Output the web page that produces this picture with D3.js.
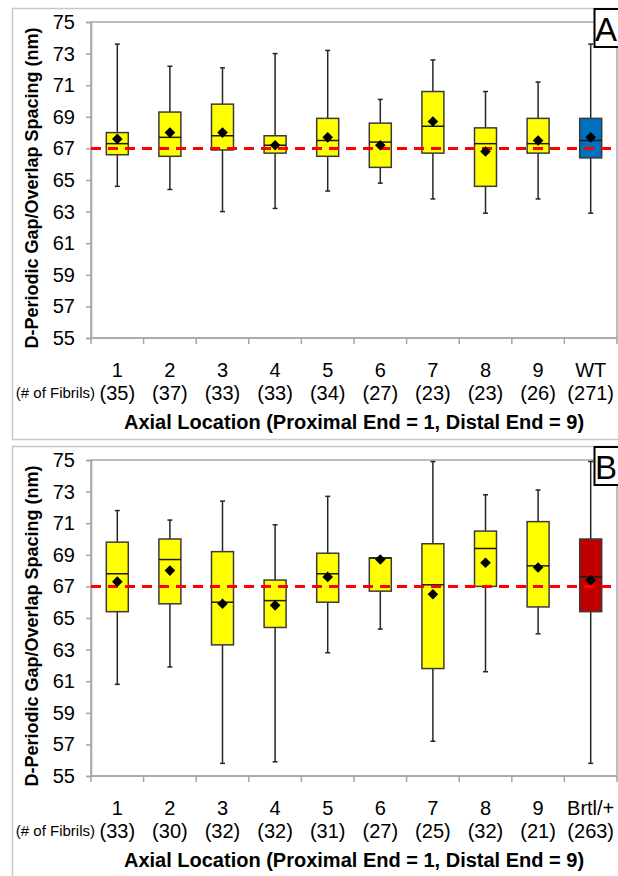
<!DOCTYPE html>
<html>
<head>
<meta charset="utf-8">
<script src="https://cdn.jsdelivr.net/npm/d3@7"></script>
<style>
  body { margin: 0; background: #fff; }
  text { font-family: "Liberation Sans", Arial, sans-serif; }
</style>
</head>
<body>
<div id="chart"></div>
<script>
// Panel A (wild type)
let catsA = ['1', '2', '3', '4', '5', '6', '7', '8', '9', 'WT'];
let countsA = ['(35)', '(37)', '(33)', '(33)', '(34)', '(27)', '(23)', '(23)', '(26)', '(271)'];
let minA  = [64.6, 64.4, 63.0, 63.2, 64.3, 64.8, 63.8, 62.9, 63.8, 62.9];
let q1A   = [66.6, 66.5, 66.9, 66.7, 66.5, 65.8, 66.7, 64.6, 66.7, 66.4];
let medA  = [67.3, 67.7, 67.8, 67.2, 67.5, 67.4, 68.4, 67.3, 67.3, 67.5];
let q3A   = [68.0, 69.3, 69.8, 67.8, 68.9, 68.6, 70.6, 68.3, 68.9, 68.9];
let maxA  = [73.6, 72.2, 72.1, 73.0, 73.2, 70.1, 72.6, 70.6, 71.2, 73.6];
let meanA = [67.6, 68.0, 68.0, 67.2, 67.7, 67.2, 68.7, 66.8, 67.5, 67.7];

// Panel B (Brtl/+)
let catsB = ['1', '2', '3', '4', '5', '6', '7', '8', '9', 'Brtl/+'];
let countsB = ['(33)', '(30)', '(32)', '(32)', '(31)', '(27)', '(25)', '(32)', '(21)', '(263)'];
let minB  = [60.8, 61.9, 55.8, 55.9, 62.8, 64.3, 57.2, 61.6, 64.0, 55.8];
let q1B   = [65.4, 65.9, 63.3, 64.4, 66.0, 66.7, 61.8, 67.0, 65.7, 65.4];
let medB  = [67.8, 68.7, 66.0, 66.1, 67.8, 68.8, 67.1, 69.4, 68.3, 67.6];
let q3B   = [69.8, 70.0, 69.2, 67.4, 69.1, 68.8, 69.7, 70.5, 71.1, 70.0];
let maxB  = [71.8, 71.2, 72.4, 70.9, 72.7, 68.8, 74.9, 72.8, 73.1, 74.9];
let meanB = [67.3, 68.0, 65.9, 65.8, 67.6, 68.7, 66.5, 68.5, 68.2, 67.4];

let yTicks = [55, 57, 59, 61, 63, 65, 67, 69, 71, 73, 75];
let refValue = 67;

let svg = d3.select('#chart')
    .append('svg')
    .attr('width', 618)
    .attr('height', 876);

function drawPanel(top, cats, counts, mn, q1, med, q3, mx, mean, lastColor, letter) {
    let plot = { left: 91, right: 617, top: top + 14, bottom: top + 330 };

    let g = svg.append('g');

    // outer frame
    g.append('rect')
        .attr('x', 12.5).attr('y', top + 0.5)
        .attr('width', 640).attr('height', 431)
        .attr('fill', 'none')
        .attr('stroke', '#c8c8c8')
        .attr('stroke-width', 1.5);

    let x = d3.scaleBand().domain(d3.range(cats.length)).range([plot.left, plot.right]);
    let y = d3.scaleLinear().domain([55, 75]).range([plot.bottom, plot.top]);

    // plot area border
    g.append('rect')
        .attr('x', plot.left).attr('y', plot.top)
        .attr('width', plot.right - plot.left).attr('height', plot.bottom - plot.top)
        .attr('fill', 'none')
        .attr('stroke', '#a6a6a6')
        .attr('stroke-width', 1.5);

    // y axis
    let yAxis = g.append('g')
        .attr('transform', 'translate(' + plot.left + ',0)')
        .call(d3.axisLeft(y).tickValues(yTicks).tickSize(5).tickPadding(11));
    yAxis.select('.domain').attr('stroke', '#a6a6a6').attr('stroke-width', 1.5);
    yAxis.selectAll('.tick line').attr('stroke', '#a6a6a6').attr('stroke-width', 1.5);
    yAxis.selectAll('.tick text')
        .attr('font-size', 20)
        .attr('fill', '#000')
        .style('font-family', '"Liberation Sans", Arial, sans-serif');

    // x axis ticks at band edges
    let edges = d3.range(cats.length + 1).map(function (i) {
        return plot.left + i * x.bandwidth();
    });
    g.append('line')
        .attr('x1', plot.left).attr('x2', plot.right)
        .attr('y1', plot.bottom).attr('y2', plot.bottom)
        .attr('stroke', '#a6a6a6').attr('stroke-width', 1.5);
    g.selectAll('.xtick')
        .data(edges)
        .enter().append('line')
        .attr('x1', function (d) { return d; })
        .attr('x2', function (d) { return d; })
        .attr('y1', plot.bottom)
        .attr('y2', plot.bottom + 6)
        .attr('stroke', '#a6a6a6').attr('stroke-width', 1.5);

    let idx = d3.range(cats.length);
    let cx = function (i) { return x(i) + x.bandwidth() / 2; };
    let bw = 22;

    // whiskers
    g.selectAll('.whisker')
        .data(idx)
        .enter().append('line')
        .attr('x1', cx).attr('x2', cx)
        .attr('y1', function (i) { return y(mx[i]); })
        .attr('y2', function (i) { return y(mn[i]); })
        .attr('stroke', '#262626').attr('stroke-width', 1.5);

    // whisker caps
    [mx, mn].forEach(function (arr) {
        g.selectAll(null)
            .data(idx)
            .enter().append('line')
            .attr('x1', function (i) { return cx(i) - 2.5; })
            .attr('x2', function (i) { return cx(i) + 2.5; })
            .attr('y1', function (i) { return y(arr[i]); })
            .attr('y2', function (i) { return y(arr[i]); })
            .attr('stroke', '#262626').attr('stroke-width', 1.5);
    });

    // boxes
    g.selectAll('.box')
        .data(idx)
        .enter().append('rect')
        .attr('x', function (i) { return cx(i) - bw / 2; })
        .attr('y', function (i) { return y(q3[i]); })
        .attr('width', bw)
        .attr('height', function (i) { return y(q1[i]) - y(q3[i]); })
        .attr('fill', function (i) { return i === cats.length - 1 ? lastColor : '#ffff00'; })
        .attr('stroke', '#3a3a3a')
        .attr('stroke-width', 1.5);

    // medians
    g.selectAll('.median')
        .data(idx)
        .enter().append('line')
        .attr('x1', function (i) { return cx(i) - bw / 2; })
        .attr('x2', function (i) { return cx(i) + bw / 2; })
        .attr('y1', function (i) { return y(med[i]); })
        .attr('y2', function (i) { return y(med[i]); })
        .attr('stroke', '#1a1a1a').attr('stroke-width', 1.5);

    // reference line
    g.append('line')
        .attr('x1', plot.left).attr('x2', plot.right + 2)
        .attr('y1', y(refValue)).attr('y2', y(refValue))
        .attr('stroke', '#ff0000')
        .attr('stroke-width', 3)
        .attr('stroke-dasharray', '10,7');

    // means
    let diamond = d3.symbol().type(d3.symbolDiamond2).size(72);
    g.selectAll('.mean')
        .data(idx)
        .enter().append('path')
        .attr('d', diamond)
        .attr('transform', function (i) { return 'translate(' + cx(i) + ',' + y(mean[i]) + ')'; })
        .attr('fill', '#000');

    // category labels
    g.selectAll('.cat')
        .data(idx)
        .enter().append('text')
        .attr('x', cx)
        .attr('y', plot.bottom + 39)
        .attr('text-anchor', 'middle')
        .attr('font-size', 20)
        .text(function (i) { return cats[i]; });

    g.selectAll('.count')
        .data(idx)
        .enter().append('text')
        .attr('x', cx)
        .attr('y', plot.bottom + 62)
        .attr('text-anchor', 'middle')
        .attr('font-size', 20)
        .text(function (i) { return counts[i]; });

    g.append('text')
        .attr('x', 95)
        .attr('y', plot.bottom + 60)
        .attr('text-anchor', 'end')
        .attr('font-size', 15)
        .text('(# of Fibrils)');

    g.append('text')
        .attr('x', 354)
        .attr('y', plot.bottom + 91)
        .attr('text-anchor', 'middle')
        .attr('font-size', 20)
        .attr('font-weight', 'bold')
        .text('Axial Location (Proximal End = 1, Distal End = 9)');

    g.append('text')
        .attr('transform', 'translate(38,' + (plot.top + 166) + ') rotate(-90)')
        .attr('text-anchor', 'middle')
        .attr('font-size', 18)
        .attr('font-weight', 'bold')
        .text('D-Periodic Gap/Overlap Spacing (nm)');

    // panel letter
    g.append('rect')
        .attr('x', 594.5).attr('y', top + 1)
        .attr('width', 40).attr('height', 38)
        .attr('fill', '#fff')
        .attr('stroke', '#000')
        .attr('stroke-width', 2);
    g.append('text')
        .attr('x', 595)
        .attr('y', top + 33)
        .attr('font-size', 33)
        .text(letter);
}

drawPanel(8, catsA, countsA, minA, q1A, medA, q3A, maxA, meanA, '#0070c0', 'A');
drawPanel(446, catsB, countsB, minB, q1B, medB, q3B, maxB, meanB, '#c00000', 'B');
</script>
</body>
</html>
